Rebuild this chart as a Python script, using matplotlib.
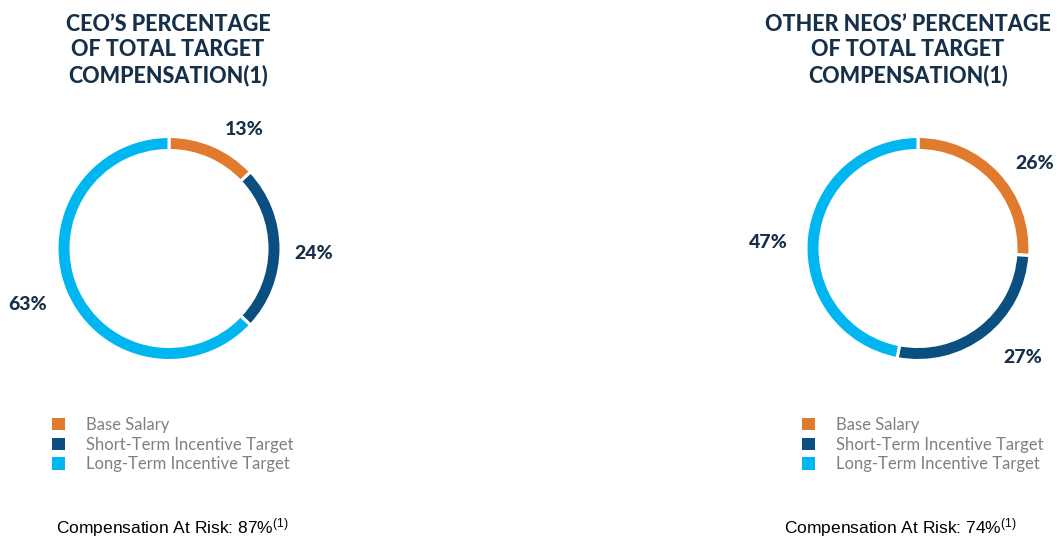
import numpy as np
import matplotlib
matplotlib.use("Agg")
import matplotlib.pyplot as plt
from matplotlib.patches import Patch

# data
categories = ["Base Salary", "Short-Term Incentive Target", "Long-Term Incentive Target"]
ceo_pct = [13, 24, 63]
neo_pct = [26, 27, 47]
ceo_at_risk = 87
neo_at_risk = 74
titles = ["CEO\u2019S PERCENTAGE\nOF TOTAL TARGET\nCOMPENSATION(1)",
          "OTHER NEOS\u2019 PERCENTAGE\nOF TOTAL TARGET\nCOMPENSATION(1)"]

colors = ["#E07A2E", "#0A4F80", "#00B6F0"]
navy = "#16304A"
grey = "#808080"

plt.rcParams["mathtext.fontset"] = "custom"
plt.rcParams["mathtext.rm"] = "Liberation Sans"
plt.rcParams["mathtext.it"] = "Liberation Sans:italic"
plt.rcParams["mathtext.bf"] = "Liberation Sans:bold"

W, H = 1062, 540
fig = plt.figure(figsize=(W / 100, H / 100), dpi=100)

R_PX = 112  # donut radius in pixels
SPAN = 1.6  # axes half-width in data units (radius = 1)


def donut(cx, cy, values, title, title_x, at_risk, risk_x, legend_x, label_turn, label_dist):
    half = R_PX * SPAN
    ax = fig.add_axes([(cx - half) / W, (H - cy - half) / H, 2 * half / W, 2 * half / H])

    wedges, _ = ax.pie(values, colors=colors, startangle=90, counterclock=False,
                       radius=1.0, wedgeprops=dict(width=0.125, edgecolor="white", linewidth=2.2))
    # pie() resets the limits, so set them afterwards
    ax.set_xlim(-SPAN, SPAN)
    ax.set_ylim(-SPAN, SPAN)
    ax.set_aspect("equal")
    ax.axis("off")

    # labels sit near the middle of each wedge, nudged a little like the original
    for w, v, turn, d in zip(wedges, values, label_turn, label_dist):
        ang = np.deg2rad((w.theta1 + w.theta2) / 2 - turn)
        ax.text(d * np.cos(ang), d * np.sin(ang), f"{v}%", ha="center", va="center",
                fontsize=14, fontweight="black", family="Lato", color=navy)

    fig.text(title_x / W, 1 - 14 / H, title, ha="center", va="top", fontsize=15.5,
             fontweight="black", family="Lato", color=navy, linespacing=1.24)

    handles = [Patch(facecolor=c, edgecolor="none") for c in colors]
    leg = fig.legend(handles, categories, loc="upper left",
                     bbox_to_anchor=(legend_x / W, 1 - 417 / H), frameon=False,
                     handlelength=0.75, handleheight=0.75, handletextpad=1.3,
                     labelspacing=0.22, borderpad=0, borderaxespad=0,
                     prop=dict(family="Lato", size=12))
    for t in leg.get_texts():
        t.set_color(grey)

    fig.text(risk_x / W, 1 - 528 / H, f"Compensation At Risk: {at_risk}%$^{{(1)}}$",
             ha="center", va="center", fontsize=12.5, family="Liberation Sans", color="black")


donut(169, 248.5, ceo_pct, titles[0], 168, ceo_at_risk, 172, 52,
      label_turn=[9, 2, 2], label_dist=[1.26, 1.29, 1.36])
donut(918, 248.5, neo_pct, titles[1], 908, neo_at_risk, 900, 802,
      label_turn=[7, -6, -3], label_dist=[1.29, 1.35, 1.34])

fig.savefig("out.png", dpi=100, facecolor="white")
